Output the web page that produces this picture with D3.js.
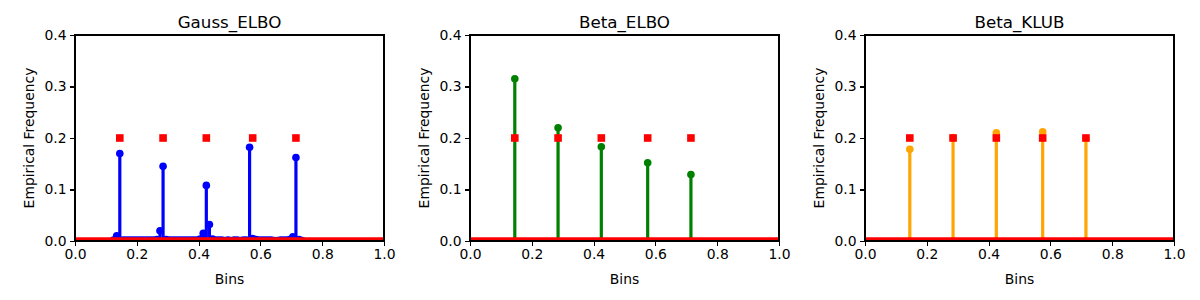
<html>
<style>
    body {
        margin: 0;
        background: #fff;
    }
    text {
        font-family: "DejaVu Sans", sans-serif;
        font-weight: normal;
        fill: #000;
    }
    .axis path,
    .axis line {
        stroke: #000;
        stroke-width: 1.1;
        shape-rendering: crispEdges;
    }
</style>
<svg width="1200" height="300"></svg>
<script src="https://d3js.org/d3.v7.min.js"></script>
<script>
    // true distribution (red squares)
    var trueBins = [0.145, 0.285, 0.425, 0.575, 0.715];
    var trueFreq = [0.2, 0.2, 0.2, 0.2, 0.2];

    // Gauss_ELBO
    var gaussBins = [0.125, 0.135, 0.145, 0.155, 0.165, 0.175, 0.185, 0.195, 0.205, 0.215, 0.225, 0.235, 0.245, 0.255, 0.265,
        0.275, 0.285, 0.295, 0.305, 0.315, 0.325, 0.335, 0.345, 0.355, 0.365, 0.375, 0.385, 0.395, 0.405,
        0.415, 0.425, 0.435, 0.445, 0.455, 0.465, 0.475, 0.485, 0.495, 0.505, 0.515, 0.525, 0.535, 0.545, 0.555,
        0.565, 0.575, 0.585, 0.595, 0.605, 0.615, 0.625, 0.635, 0.645, 0.655, 0.665, 0.675, 0.685, 0.695,
        0.705, 0.715, 0.725, 0.735];
    var gaussFreq = [0.002, 0.010, 0.170, 0.002, 0.002, 0.002, 0.002, 0.002, 0.002, 0.002, 0.002, 0.002, 0.002, 0.002, 0.003,
        0.020, 0.145, 0.003, 0.002, 0.002, 0.002, 0.002, 0.002, 0.002, 0.002, 0.002, 0.002, 0.002, 0.004,
        0.015, 0.108, 0.032, 0.004, 0.002, 0.002, 0.002, 0.001, 0.002, 0.001, 0.002, 0.002, 0.001, 0.002, 0.002,
        0.182, 0.005, 0.003, 0.002, 0.002, 0.002, 0.002, 0.002, 0.001, 0.001, 0.002, 0.002, 0.002, 0.003,
        0.008, 0.162, 0.003, 0.001];

    // Beta_ELBO
    var betaElboBins = [0.145, 0.285, 0.425, 0.575, 0.715];
    var betaElboFreq = [0.315, 0.220, 0.183, 0.152, 0.129];

    // Beta_KLUB
    var betaKlubBins = [0.145, 0.285, 0.425, 0.575, 0.715];
    var betaKlubFreq = [0.178, 0.201, 0.210, 0.212, 0.199];

    var titles = ["Gauss_ELBO", "Beta_ELBO", "Beta_KLUB"];
    var colors = ["#0000ff", "#008000", "#ffa500"];
    var xTicks = [0, 0.2, 0.4, 0.6, 0.8, 1.0];
    var yTicks = [0, 0.1, 0.2, 0.3, 0.4];

    var svg = d3.select("svg");
    var panelLeft = [75, 470, 865],
        pw = 309,
        marginTop = 35,
        ph = 206;

    var panels = [
        { bins: gaussBins, freq: gaussFreq },
        { bins: betaElboBins, freq: betaElboFreq },
        { bins: betaKlubBins, freq: betaKlubFreq }
    ];

    panels.forEach(function(p, i) {
        var x = d3.scaleLinear().domain([0, 1]).range([0, pw]);
        var y = d3.scaleLinear().domain([0, 0.4]).range([ph, 0]);

        var g = svg.append("g").attr("transform", "translate(" + panelLeft[i] + "," + marginTop + ")");

        g.append("clipPath").attr("id", "clip" + i)
            .append("rect").attr("width", pw).attr("height", ph);

        var plot = g.append("g").attr("clip-path", "url(#clip" + i + ")");

        var pts = p.bins.map(function(b, j) { return [b, p.freq[j]]; });

        // stems
        plot.selectAll(".stem").data(pts).enter().append("line")
            .attr("x1", d => x(d[0])).attr("x2", d => x(d[0]))
            .attr("y1", y(0)).attr("y2", d => y(d[1]))
            .attr("stroke", colors[i])
            .attr("stroke-width", 3.2);

        plot.selectAll(".mark").data(pts).enter().append("circle")
            .attr("cx", d => x(d[0])).attr("cy", d => y(d[1]))
            .attr("r", 3.8)
            .attr("fill", colors[i]);

        // true distribution: zero baseline + squares
        plot.append("line")
            .attr("x1", x(0)).attr("x2", x(1))
            .attr("y1", y(0)).attr("y2", y(0))
            .attr("stroke", "#ff0000")
            .attr("stroke-width", 7.5);

        plot.selectAll(".sq").data(trueBins).enter().append("rect")
            .attr("x", d => x(d) - 3.8)
            .attr("y", (d, j) => y(trueFreq[j]) - 3.8)
            .attr("width", 7.6).attr("height", 7.6)
            .attr("fill", "#ff0000");

        // axes
        g.append("g").attr("class", "axis")
            .attr("transform", "translate(0," + ph + ")")
            .call(d3.axisBottom(x).tickValues(xTicks).tickFormat(d3.format(".1f")).tickSize(4.9).tickPadding(3.5))
            .call(a => a.selectAll("text").style("font-size", "13.9px").style("font-family", "DejaVu Sans"));

        g.append("g").attr("class", "axis")
            .call(d3.axisLeft(y).tickValues(yTicks).tickFormat(d3.format(".1f")).tickSize(4.9).tickPadding(3.5))
            .call(a => a.selectAll("text").style("font-size", "13.9px").style("font-family", "DejaVu Sans"));

        g.selectAll(".axis .domain").remove();
        g.append("rect")
            .attr("width", pw).attr("height", ph)
            .attr("fill", "none").attr("stroke", "#000").attr("stroke-width", 1.1)
            .style("shape-rendering", "crispEdges");

        g.append("text")
            .attr("x", pw / 2).attr("y", -7)
            .attr("text-anchor", "middle")
            .style("font-size", "16.7px")
            .text(titles[i]);

        g.append("text")
            .attr("x", pw / 2).attr("y", ph + 43)
            .attr("text-anchor", "middle")
            .style("font-size", "13.9px")
            .text("Bins");

        g.append("text")
            .attr("transform", "translate(-41," + (ph / 2) + ") rotate(-90)")
            .attr("text-anchor", "middle")
            .style("font-size", "13.9px")
            .text("Empirical Frequency");
    });
</script>
</html>
